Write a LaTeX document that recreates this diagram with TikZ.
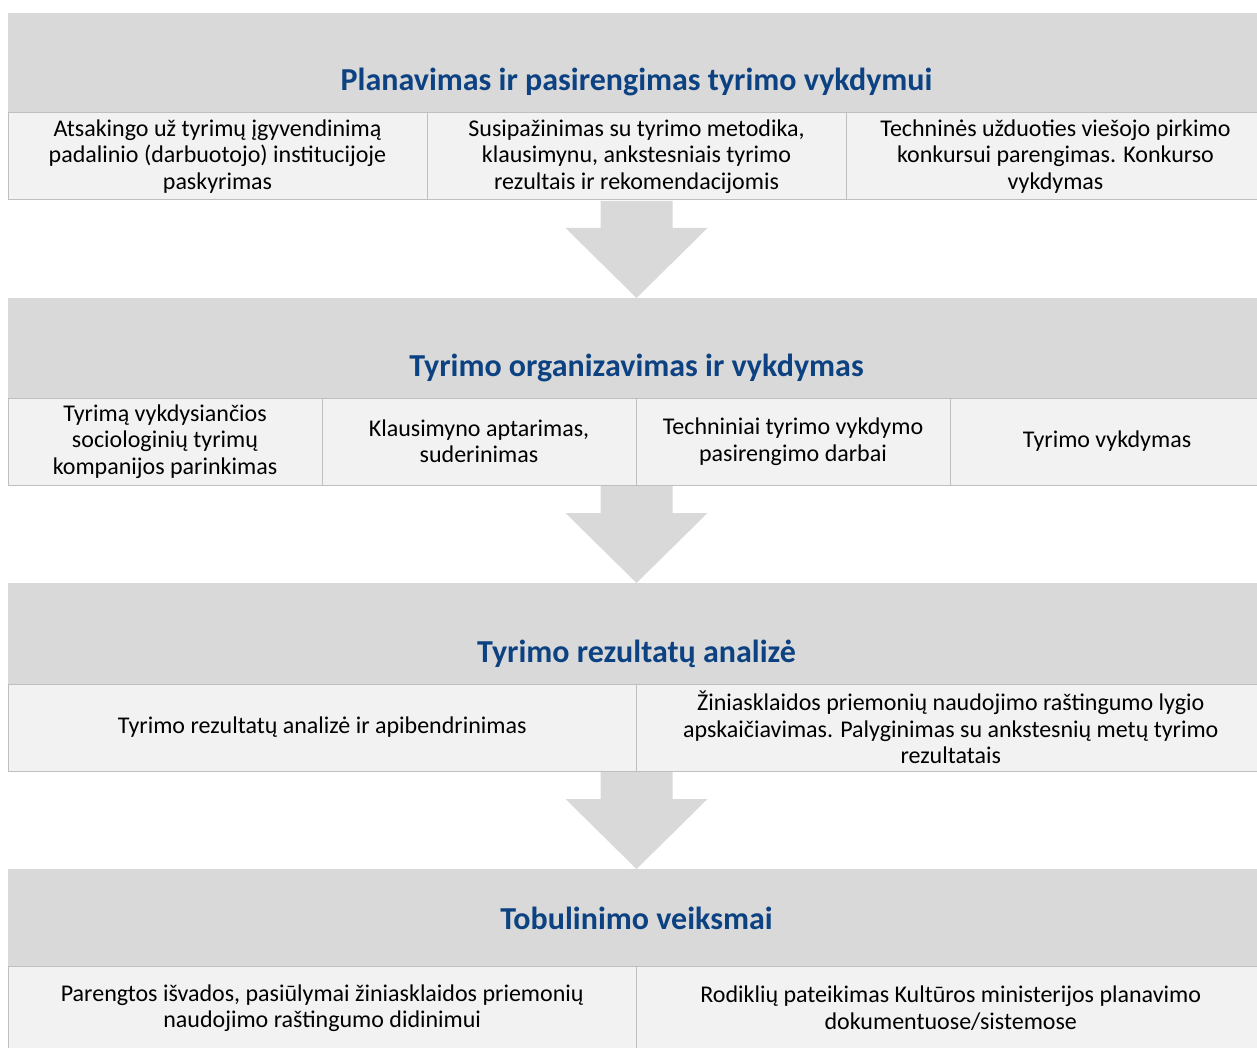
\documentclass[tikz,border=0pt]{standalone}
\usepackage{fontspec}
\setmainfont{Carlito}
\usepackage{xcolor}
\usetikzlibrary{positioning,calc}

\definecolor{hdrgrey}{HTML}{D9D9D9}
\definecolor{cellgrey}{HTML}{F2F2F2}
\definecolor{linegrey}{HTML}{BFBFBF}
\definecolor{titleblue}{HTML}{0D4282}

\tikzset{
  band/.style={fill=hdrgrey, minimum width=628.5pt, minimum height=50pt, inner sep=0pt, outer sep=0pt, anchor=north west},
  bandtitle/.style={font=\fontsize{16}{19}\selectfont\bfseries, text=titleblue},
  cell/.style={draw=linegrey, fill=cellgrey, line width=0.5pt, minimum height=43.5pt, inner sep=0pt, outer sep=0pt,
    anchor=north west, align=center, font=\fontsize{12}{13.25}\selectfont},
  flow/.style={fill=hdrgrey}
}
% block arrow: #1 top of shaft, #2 tip
\newcommand{\flowarrow}[2]{%
  \fill[flow] ($(#1)+(-18pt,-0.5pt)$) -- ($(#1)+(18pt,-0.5pt)$) -- ($(#2)+(18pt,35pt)$)
    -- ($(#2)+(35.5pt,35pt)$) -- (#2) -- ($(#2)+(-35.5pt,35pt)$) -- ($(#2)+(-18pt,35pt)$) -- cycle;}

\begin{document}
\begin{tikzpicture}
\useasboundingbox (0,0) rectangle (628.5pt,-524pt);

% planning
\node[band] (h1) at (4pt,-6.5pt) {};
\node[bandtitle] (t1) at ($(h1.north)+(0,-34.5pt)$) {Planavimas ir pasirengimas tyrimo vykdymui};
\node[cell, minimum width=209.5pt, below right=0pt and 0pt of h1.south west] (p1)
  {Atsakingo už tyrimų įgyvendinimą\\padalinio (darbuotojo) institucijoje\\paskyrimas};
\node[cell, minimum width=209.5pt, right=0pt of p1] (p2)
  {Susipažinimas su tyrimo metodika,\\klausimynu, ankstesniais tyrimo\\rezultais ir rekomendacijomis};
\node[cell, minimum width=209.5pt, right=0pt of p2] (p3)
  {Techninės užduoties viešojo pirkimo\\konkursui parengimas. Konkurso\\vykdymas};

% organising
\node[band, below right=49pt and 0pt of p1.south west] (h2) {};
\node[bandtitle] (t2) at ($(h2.north)+(0,-35pt)$) {Tyrimo organizavimas ir vykdymas};
\node[cell, minimum width=157pt, below right=0pt and 0pt of h2.south west] (o1)
  {Tyrimą vykdysiančios\\sociologinių tyrimų\\kompanijos parinkimas};
\node[cell, minimum width=157pt, right=0pt of o1] (o2) {Klausimyno aptarimas,\\suderinimas};
\node[cell, minimum width=157pt, right=0pt of o2] (o3) {Techniniai tyrimo vykdymo\\pasirengimo darbai};
\node[cell, minimum width=157pt, right=0pt of o3] (o4) {Tyrimo vykdymas};

% analysis
\node[band, minimum height=50.5pt, below right=49pt and 0pt of o1.south west] (h3) {};
\node[bandtitle] (t3) at ($(h3.north)+(0,-35.5pt)$) {Tyrimo rezultatų analizė};
\node[cell, minimum width=314.25pt, below right=0pt and 0pt of h3.south west] (a1)
  {Tyrimo rezultatų analizė ir apibendrinimas};
\node[cell, minimum width=314.25pt, right=0pt of a1] (a2)
  {Žiniasklaidos priemonių naudojimo raštingumo lygio\\apskaičiavimas. Palyginimas su ankstesnių metų tyrimo\\rezultatais};

% improvement
\node[band, minimum height=48.5pt, below right=49pt and 0pt of a1.south west] (h4) {};
\node[bandtitle] (t4) at ($(h4.north)+(0,-24.5pt)$) {Tobulinimo veiksmai};
\node[cell, minimum width=314.25pt, minimum height=42pt, below right=0pt and 0pt of h4.south west] (b1)
  {Parengtos išvados, pasiūlymai žiniasklaidos priemonių\\naudojimo raštingumo didinimui};
\node[cell, minimum width=314.25pt, minimum height=42pt, right=0pt of b1] (b2)
  {Rodiklių pateikimas Kultūros ministerijos planavimo\\dokumentuose/sistemose};

\coordinate (s1) at (h1.center |- p1.south);
\coordinate (s2) at (h2.center |- o1.south);
\coordinate (s3) at (h3.center |- a1.south);
\flowarrow{s1}{h2.north}
\flowarrow{s2}{h3.north}
\flowarrow{s3}{h4.north}
\end{tikzpicture}
\end{document}
